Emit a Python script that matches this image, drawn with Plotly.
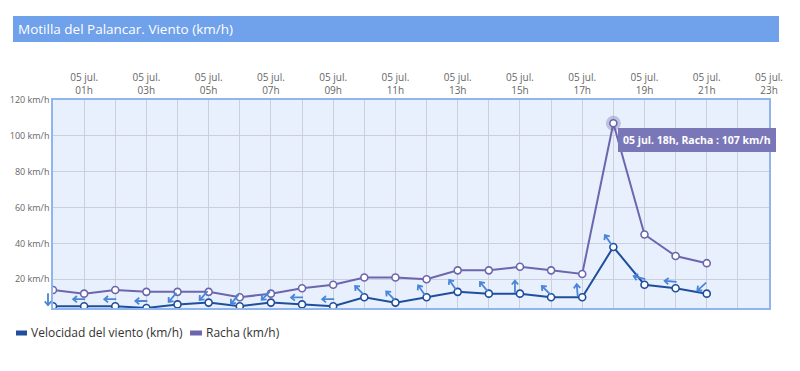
import math
import plotly.graph_objects as go

# ---------------- data ----------------
hours = list(range(22))  # 05 jul. 00h .. 21h
velocidad = [5, 5, 5, 4, 6, 7, 5, 7, 6, 5, 10, 7, 10, 13, 12, 12, 10, 10, 38, 17, 15, 12]
racha = [14, 12, 14, 13, 13, 13, 10, 12, 15, 17, 21, 21, 20, 25, 25, 27, 25, 23, 107, 45, 33, 29]
# direction the wind arrow points to (degrees, 0 = right, 90 = up)
direccion_flecha = [270, 180, 180, 180, 230, 228, 230, 225, 180, 180, 135, 135, 125, 125, 130,
                    90, 135, 95, 125, 165, 175, 222]
tick_hours = list(range(24))
tick_text = [("05 jul.<br>%02dh" % h) if h % 2 == 1 else "" for h in tick_hours]
y_ticks = [20, 40, 60, 80, 100, 120]
y_text = ["%d km/h" % v for v in y_ticks]
tooltip_index = 18
X_RANGE = [0, 23]
Y_RANGE = [4, 120]

# ---------------- style ----------------
OFF = 8  # default page body margin
W, H = 800 - OFF, 371 - OFF
# plot area in page pixels: x 53..769, y 100..308
ML, MT = 53 - OFF, 100 - OFF
MR = W - (769 - OFF)
MB = H - (308 - OFF)
PW, PH = W - ML - MR, H - MT - MB
C_VEL = "#1f4f9c"
C_RAC = "#6b66ad"
C_ARROW = "#4a86d8"
FONT = "Open Sans"


def px(x):
    return (x - OFF - ML) / PW


def py(y):
    return (MT + PH - (y - OFF)) / PH


fig = go.Figure()

# halo behind highlighted point
fig.add_trace(go.Scatter(
    x=[hours[tooltip_index]], y=[racha[tooltip_index]], mode="markers",
    marker=dict(size=15, color="rgba(107,102,173,0.35)", line=dict(width=0)),
    showlegend=False, hoverinfo="skip"))

fig.add_trace(go.Scatter(
    x=hours, y=racha, mode="lines+markers", name="Racha (km/h)",
    line=dict(color=C_RAC, width=2),
    marker=dict(size=7, color="white", line=dict(color=C_RAC, width=1.6)),
    showlegend=False))
fig.add_trace(go.Scatter(
    x=hours, y=velocidad, mode="lines+markers", name="Velocidad del viento (km/h)",
    line=dict(color=C_VEL, width=2),
    marker=dict(size=7, color="white", line=dict(color=C_VEL, width=1.6)),
    showlegend=False))

shapes = []
# wind arrows (pixel-sized paths anchored on the velocity points)
L = 12.0
for h, v, a in zip(hours, velocidad, direccion_flecha):
    ux, uy = math.cos(math.radians(a)), math.sin(math.radians(a))
    cx, cy = -5.0, 7.0
    hx, hy = cx + ux * L / 2, cy + uy * L / 2
    tx, ty = cx - ux * L / 2, cy - uy * L / 2
    wings = []
    for s in (40, -40):
        r = math.radians(a + 180 + s)
        wings.append((hx + 5 * math.cos(r), hy + 5 * math.sin(r)))
    path = (f"M{tx:.2f},{ty:.2f} L{hx:.2f},{hy:.2f} "
            f"M{wings[0][0]:.2f},{wings[0][1]:.2f} L{hx:.2f},{hy:.2f} L{wings[1][0]:.2f},{wings[1][1]:.2f}")
    shapes.append(dict(type="path", xref="paper", yref="y", xsizemode="pixel", ysizemode="pixel",
                       xanchor=(h - X_RANGE[0]) / (X_RANGE[1] - X_RANGE[0]), yanchor=v, path=path,
                       line=dict(color=C_ARROW, width=1.8), layer="above"))

# title bar
shapes.append(dict(type="rect", xref="paper", yref="paper",
                   x0=px(13), x1=px(779), y0=py(42), y1=py(16),
                   fillcolor="#70a1eb", line=dict(width=0), layer="below"))
# legend swatches
shapes.append(dict(type="rect", xref="paper", yref="paper",
                   x0=px(16), x1=px(27), y0=py(335.5), y1=py(330.5),
                   fillcolor=C_VEL, line=dict(width=0)))
shapes.append(dict(type="rect", xref="paper", yref="paper",
                   x0=px(190), x1=px(202), y0=py(335.5), y1=py(330.5),
                   fillcolor=C_RAC, line=dict(width=0)))

annotations = [
    dict(text="Motilla del Palancar. Viento (km/h)", xref="paper", yref="paper",
         x=px(16), y=py(29), xanchor="left", yanchor="middle", showarrow=False,
         font=dict(family=FONT, size=13.5, color="white")),
    dict(text="Velocidad del viento (km/h)", xref="paper", yref="paper",
         x=px(29), y=py(332.5), xanchor="left", yanchor="middle", showarrow=False,
         font=dict(family=FONT, size=12, color="#333333")),
    dict(text="Racha (km/h)", xref="paper", yref="paper",
         x=px(204), y=py(332.5), xanchor="left", yanchor="middle", showarrow=False,
         font=dict(family=FONT, size=12, color="#333333")),
    dict(text="<b>05 jul. %02dh, Racha : %d km/h</b>" % (hours[tooltip_index], racha[tooltip_index]),
         x=hours[tooltip_index], y=racha[tooltip_index], xref="x", yref="y",
         xanchor="left", yanchor="middle", xshift=5, yshift=-17, showarrow=False,
         bgcolor="#7a77b8", borderpad=5, borderwidth=0,
         font=dict(family=FONT, size=10.5, color="white")),
]

fig.update_layout(
    width=W, height=H,
    margin=dict(l=ML, r=MR, t=MT, b=MB, pad=0, autoexpand=False),
    paper_bgcolor="white", plot_bgcolor="#e8f0fd",
    showlegend=False, hovermode=False,
    shapes=shapes, annotations=annotations,
    font=dict(family=FONT, color="#666666", size=10),
)
fig.update_xaxes(
    range=X_RANGE, side="top", tickmode="array", tickvals=tick_hours, ticktext=tick_text,
    showgrid=True, gridcolor="#c9d0dc", gridwidth=1, zeroline=False, automargin=False,
    showline=True, mirror=True, linecolor="#8fb4ee", linewidth=1.5,
    ticks="", tickfont=dict(family=FONT, size=10, color="#666666"))
fig.update_yaxes(
    range=Y_RANGE, tickmode="array", tickvals=y_ticks, ticktext=y_text,
    showgrid=True, gridcolor="#c9d0dc", gridwidth=1, zeroline=False, automargin=False,
    showline=True, mirror=True, linecolor="#8fb4ee", linewidth=1.5,
    ticks="", tickfont=dict(family=FONT, size=9, color="#666666"))

fig.write_html("out.html")
